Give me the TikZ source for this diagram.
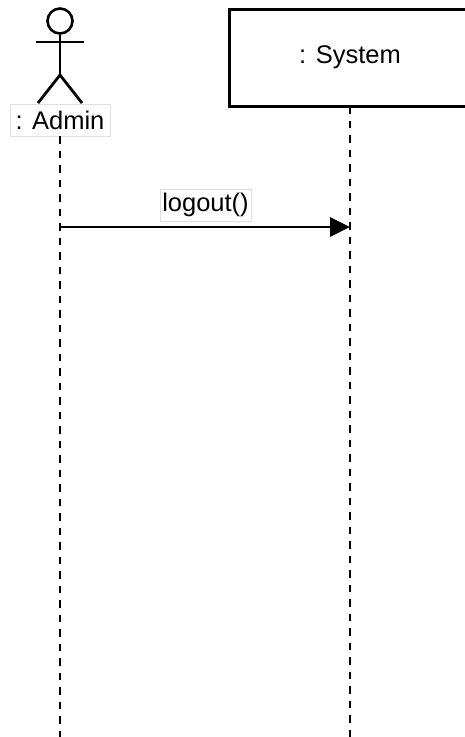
\documentclass[tikz,border=0pt]{standalone}
\usepackage{fontspec}
\setmainfont{Liberation Sans}
\usetikzlibrary{arrows.meta}
\begin{document}
\begin{tikzpicture}[x=1pt,y=-1pt,
  line/.style={line width=2.8pt},
  life/.style={line width=2.8pt, dash pattern=on 7.5pt off 7pt},
  lbl/.style={fill=white, draw=black!12, line width=0.8pt, inner sep=0pt, font=\fontsize{25.5}{30}\selectfont},
  boxline/.style={line width=3pt, line cap=rect}]
\useasboundingbox (0,0) rectangle (465,737);
\clip (0,0) rectangle (465,737);
% actor
\node[circle, draw, line width=2.6pt, minimum size=25pt, inner sep=0pt] (head) at (60,21) {};
\coordinate (hip) at (60,75);
\coordinate (armL) at (36,42);
\coordinate (armR) at (84,42);
\coordinate (legL) at (38,103);
\coordinate (legR) at (82,103);
\draw[line] (head.south) -- (hip);
\draw[line] (armL) -- (armR);
\draw[line] (legL) -- (hip) -- (legR);
\node[lbl, minimum width=100pt, minimum height=32pt] (admin) at (60,120) {: Admin};
% system (box runs past the right edge)
\coordinate (sysTR) at (540,9);
\coordinate (sysTL) at (229,9);
\coordinate (sysBL) at (229,106);
\coordinate (sysBR) at (540,106);
\draw[boxline] (sysTR) -- (sysTL) -- (sysBL) -- (sysBR);
\node[font=\fontsize{25.5}{30}\selectfont, inner sep=0pt] (systxt) at (350,57) {: System};
% lifelines
\coordinate (sfoot) at (350,106);
\coordinate (aend) at (60,737);
\coordinate (send) at (350,737);
\draw[life] (admin.south) -- (aend);
\draw[life] (sfoot) -- (send);
% message
\coordinate (m1) at (60,227);
\coordinate (m2) at (350,227);
\draw[line, -{Triangle[length=20pt,width=19pt]}] (m1) -- (m2);
\node[lbl, minimum width=91pt, minimum height=32pt] (msg) at (205.5,205) {logout()};
\end{tikzpicture}
\end{document}
